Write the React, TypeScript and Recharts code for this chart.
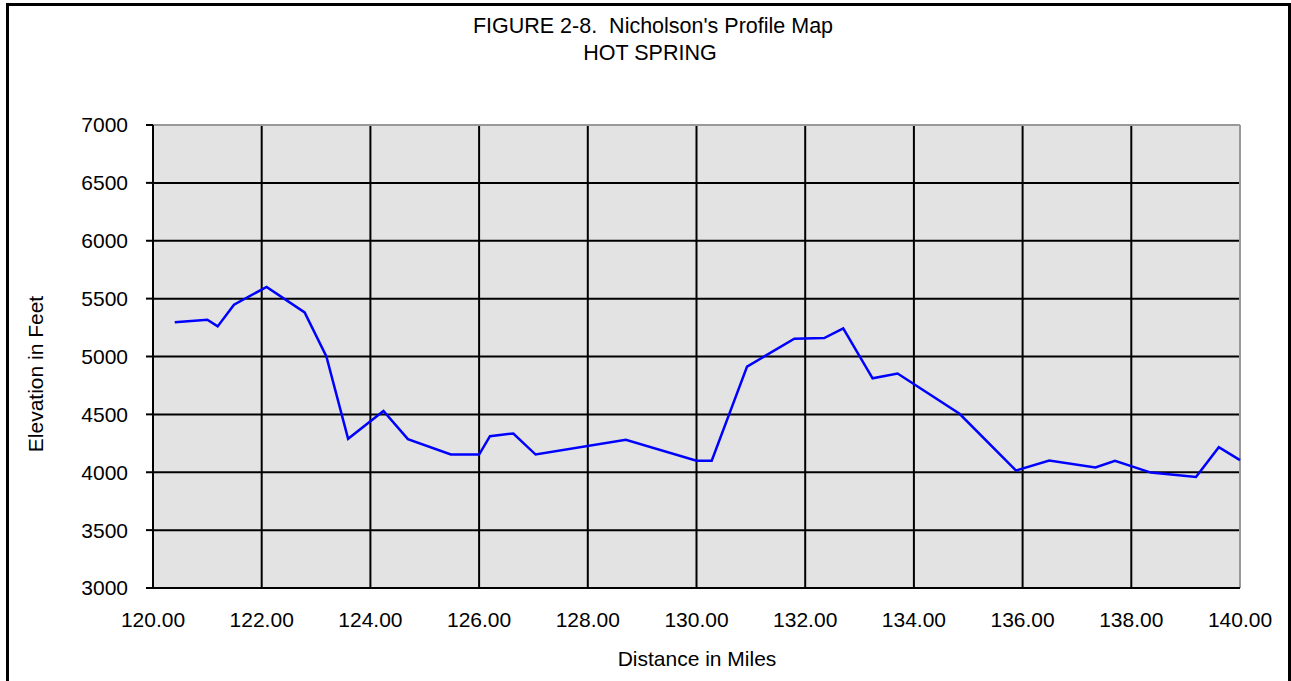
import { FC } from 'react'
import {
  LineChart,
  Line,
  CartesianGrid,
  XAxis,
  YAxis,
  ReferenceLine,
} from 'recharts'

// distance along route (miles) and elevation (feet)
const miles = [
  120.4, 121.0, 121.19, 121.49, 122.09, 122.79, 123.19, 123.59, 124.24, 124.69,
  125.48, 126.0, 126.2, 126.63, 127.04, 128.7, 130.0, 130.28, 130.93, 131.8,
  132.35, 132.7, 133.24, 133.7, 134.84, 135.88, 136.49, 137.34, 137.7, 138.36,
  139.19, 139.61, 140.0,
]
const elevation = [
  5295, 5318, 5260, 5448, 5601, 5381, 5000, 4289, 4529, 4286,
  4153, 4153, 4312, 4335, 4153, 4281, 4100, 4100, 4913, 5153,
  5159, 5243, 4812, 4853, 4505, 4015, 4101, 4041, 4099, 3997,
  3959, 4217, 4105,
]
const xTicks = [120, 122, 124, 126, 128, 130, 132, 134, 136, 138, 140]
const yTicks = [3000, 3500, 4000, 4500, 5000, 5500, 6000, 6500, 7000]

const data = miles.map((m, i) => ({ miles: m, elev: elevation[i] }))

const font = 'Arial, "Liberation Sans", sans-serif'

const label = (x: number, y: number, extra: object = {}) => ({
  position: 'absolute' as const,
  left: x,
  top: y,
  transform: 'translate(-50%, -50%)',
  fontFamily: font,
  fontSize: 21,
  color: '#000',
  whiteSpace: 'pre' as const,
  lineHeight: 1,
  ...extra,
})

const App: FC = () => {
  return (
    <div
      style={{
        position: 'absolute',
        left: 0,
        top: 0,
        width: 1291,
        height: 681,
        overflow: 'hidden',
        background: '#fff',
      }}
    >
      <div
        style={{
          position: 'absolute',
          left: 6,
          top: 3,
          width: 1285,
          height: 720,
          boxSizing: 'border-box',
          border: '3px solid #000',
        }}
      />
      <LineChart
        width={1291}
        height={681}
        data={data}
        margin={{ top: 125, right: 51, left: 0, bottom: 0 }}
      >
        <CartesianGrid stroke="#000" strokeWidth={2} fill="#e3e3e3" fillOpacity={1} />
        <XAxis
          dataKey="miles"
          type="number"
          domain={[120, 140]}
          ticks={xTicks}
          tickFormatter={(v: number) => v.toFixed(2)}
          height={93}
          axisLine={{ stroke: '#000', strokeWidth: 2 }}
          tickLine={false}
          tickSize={0}
          tickMargin={24}
          tick={{ fill: '#000', fontSize: 21, fontFamily: font }}
        />
        <YAxis
          type="number"
          domain={[3000, 7000]}
          ticks={yTicks}
          width={153}
          axisLine={{ stroke: '#000', strokeWidth: 2 }}
          tickLine={{ stroke: '#000', strokeWidth: 2 }}
          tickSize={7}
          tickMargin={18}
          tick={{ fill: '#000', fontSize: 21, fontFamily: font }}
        />
        <ReferenceLine y={7000} stroke="#999" strokeWidth={2} />
        <ReferenceLine x={140} stroke="#999" strokeWidth={2} />
        <Line
          type="linear"
          dataKey="elev"
          stroke="#0000ff"
          strokeWidth={2.5}
          dot={false}
          isAnimationActive={false}
        />
      </LineChart>
      <div style={label(653, 27, { fontSize: 21.5 })}>FIGURE 2-8.  Nicholson's Profile Map</div>
      <div style={label(650, 54, { fontSize: 21.5 })}>HOT SPRING</div>
      <div style={label(697, 658)}>Distance in Miles</div>
      <div style={label(35, 374, { transform: 'translate(-50%, -50%) rotate(-90deg)' })}>
        Elevation in Feet
      </div>
    </div>
  )
}

export default App
